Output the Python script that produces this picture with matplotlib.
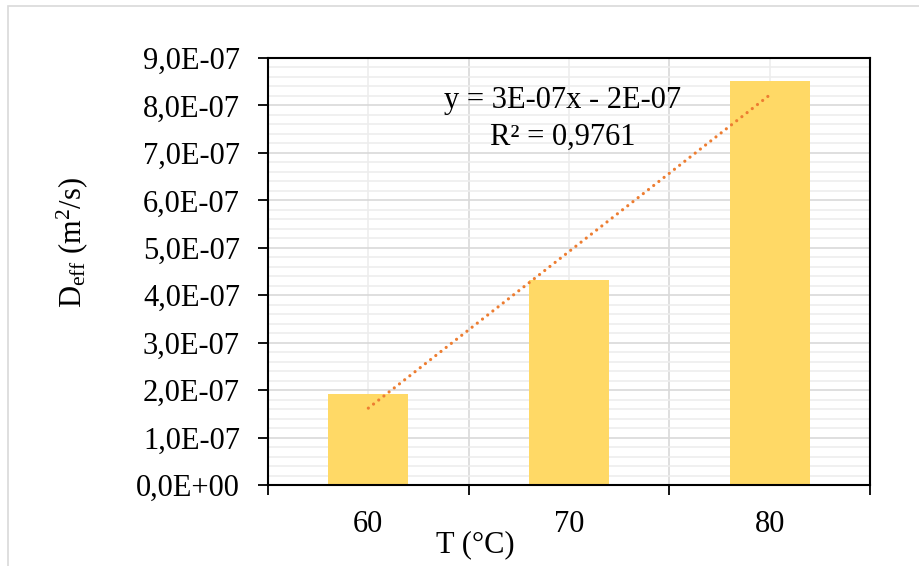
import numpy as np
import matplotlib
matplotlib.use("Agg")
import matplotlib.pyplot as plt
from matplotlib.ticker import FuncFormatter, MultipleLocator, FixedLocator
from matplotlib.patches import Rectangle

plt.rcParams['font.family'] = ['Liberation Serif', 'DejaVu Serif']
plt.rcParams['mathtext.fontset'] = 'custom'
plt.rcParams['mathtext.rm'] = 'Liberation Serif'
plt.rcParams['mathtext.it'] = 'Liberation Serif:italic'

# datos
temps = ['60', '70', '80']
deff = [1.92e-7, 4.32e-7, 8.52e-7]
eq_text = "y = 3E-07x - 2E-07"
r2_text = "R² = 0,9761"

FS = 22
BAR_COLOR = '#FFD966'
TREND_COLOR = '#ED7D31'

fig = plt.figure(figsize=(9.2, 5.66), dpi=100)
ax = fig.add_axes([268 / 920, 81 / 566, 602 / 920, 427 / 566])

# borde del área del gráfico (estilo Excel)
fig.patches.append(Rectangle((8 / 920, -0.1), 1.2, 1.1 - 6 / 566, transform=fig.transFigure,
                             fill=False, edgecolor='#D9D9D9', linewidth=1.2, zorder=0))

pos = np.arange(1, len(temps) + 1)
ax.bar(pos, deff, width=0.4, color=BAR_COLOR, zorder=2)

# línea de tendencia lineal
m, b = np.polyfit(pos, deff, 1)
xt = np.array([pos[0], pos[-1]])
ax.plot(xt, m * xt + b, color=TREND_COLOR, linewidth=2.3, linestyle=(0, (0.01, 2.05)),
        dash_capstyle='round', zorder=3)

ax.text(0.49, 0.90, eq_text, transform=ax.transAxes, ha='center', va='center', fontsize=FS, zorder=4)
ax.text(0.49, 0.815, r2_text, transform=ax.transAxes, ha='center', va='center', fontsize=FS, zorder=4)

ax.set_xlim(0.5, 3.5)
ax.set_ylim(0, 9e-7)

# eje Y
ax.yaxis.set_major_locator(MultipleLocator(1e-7))
ax.yaxis.set_minor_locator(MultipleLocator(0.2e-7))
ax.yaxis.set_major_formatter(FuncFormatter(lambda v, p: f"{v:.1E}".replace('.', ',')))
ax.tick_params(axis='y', which='major', direction='out', length=7.2, width=1.3, pad=13, labelsize=FS)
ax.tick_params(axis='y', which='minor', length=0)

# eje X: marcas en los límites de categoría, etiquetas al centro
ax.xaxis.set_major_locator(FixedLocator([0.5, 1.5, 2.5, 3.5]))
ax.xaxis.set_minor_locator(FixedLocator(list(pos)))
ax.xaxis.set_major_formatter(FuncFormatter(lambda v, p: ''))
ax.xaxis.set_minor_formatter(FuncFormatter(lambda v, p: temps[int(round(v)) - 1]))
ax.tick_params(axis='x', which='major', direction='out', length=7, width=1.3)
ax.tick_params(axis='x', which='minor', length=0, pad=18, labelsize=FS)

# rejilla
ax.grid(True, which='major', color='#D9D9D9', linewidth=1.2, zorder=0)
ax.grid(True, which='minor', color='#EDEDED', linewidth=1.2, zorder=0)
ax.set_axisbelow(True)

for s in ax.spines.values():
    s.set_color('black')
    s.set_linewidth(1.5)

ax.text(0.345, -0.14, "T (°C)", transform=ax.transAxes, ha='center', va='center', fontsize=FS)
ax.text(-0.326, 0.567, r"D$_{\rm eff}$ (m$^{2}$/s)", transform=ax.transAxes, ha='center', va='center',
        rotation=90, fontsize=FS)

fig.savefig("out.png", dpi=100)
